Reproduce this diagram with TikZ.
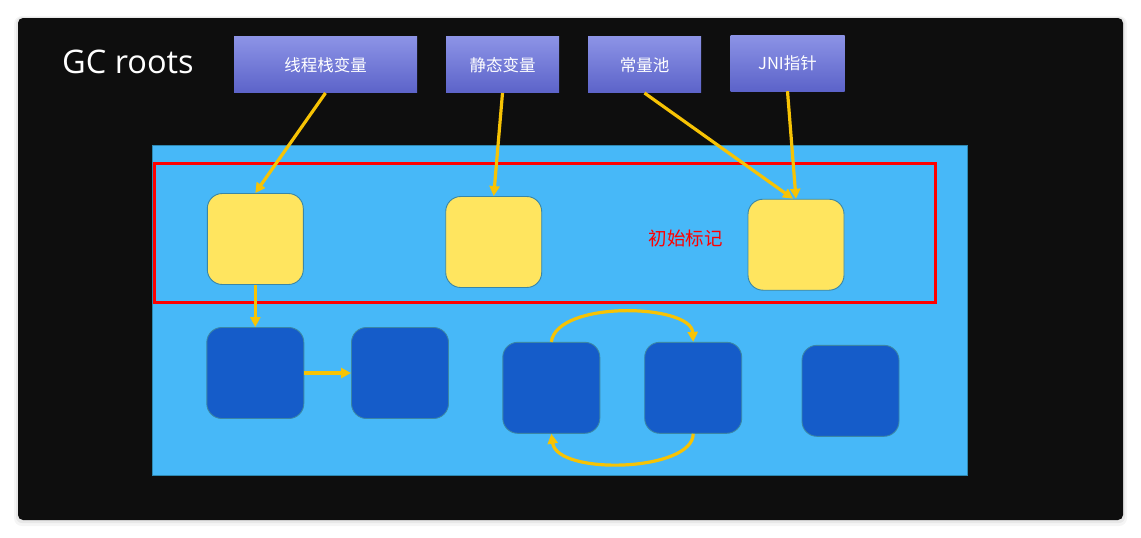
\documentclass[tikz,border=0pt]{standalone}
\usepackage{fontspec}
\setmainfont{Open Sans}
\newfontfamily\cjk{Noto Sans CJK SC}
\usetikzlibrary{arrows.meta}

\definecolor{rootTop}{HTML}{8C93E6}
\definecolor{rootBot}{HTML}{5C63C9}
\definecolor{heapBlue}{HTML}{47B8F8}
\definecolor{heapEdge}{HTML}{2E88B0}
\definecolor{markYellow}{HTML}{FFE55F}
\definecolor{objBlue}{HTML}{155CC9}
\definecolor{boxEdge}{HTML}{3A86A6}
\definecolor{refGold}{HTML}{F7C304}
\definecolor{board}{HTML}{0E0E0E}

\begin{document}
\begin{tikzpicture}[x=1pt, y=-1pt,
    root/.style={top color=rootTop, bottom color=rootBot, text=white, inner sep=0pt,
        minimum height=56pt, font=\cjk\fontsize{16.5}{18}\selectfont},
    marked/.style={draw=boxEdge, fill=markYellow, line width=0.9pt, rounded corners=15pt,
        minimum width=96pt, minimum height=91pt},
    unmarked/.style={draw=boxEdge, fill=objBlue, line width=0.9pt, rounded corners=15pt,
        minimum width=97pt, minimum height=91pt},
    ref/.style={draw=refGold, line width=3.2pt, -{Triangle[length=10pt, width=10pt]}}]
    \useasboundingbox (0,0) rectangle (1141,538);
    \fill[white] (0,0) rectangle (1141,538);

    % Board
    \fill[black, opacity=0.04, rounded corners=8pt] (14,16) rectangle (1127,526);
    \fill[black, opacity=0.05, rounded corners=6pt] (16,17) rectangle (1125,523);
    \fill[board, rounded corners=5pt] (18,18) rectangle (1123,520);
    \node[anchor=base west, inner sep=0pt, text=white, font=\fontsize{32.5}{38}\selectfont] (title) at (62,73.3) {GC roots};

    % GC roots
    \node[root, minimum width=183pt] (stack) at (325.5,64.8) {线程栈变量};
    \node[root, minimum width=113pt] (static) at (502.5,64.8) {静态变量};
    \node[root, minimum width=113pt] (pool) at (644.5,64.8) {常量池};
    \node[root, minimum width=114pt] (jni) at (787.5,63) {JNI指针};

    % Heap
    \draw[heapEdge, fill=heapBlue, line width=0.9pt] (152,145.7) rectangle (967.3,475.7);
    \draw[red, line width=3.2pt] (154.3,163.3) rectangle (935.5,302.8);
    \node[text=red, font=\cjk\fontsize{18.5}{20}\selectfont] (initmark) at (685.8,238.3) {初始标记};

        % Marked objects
        \node[marked] (m1) at (255.3,239) {};
        \node[marked] (m2) at (493.7,242) {};
        \node[marked] (m3) at (796,244.7) {};

        % Other objects
        \node[unmarked] (o1) at (255.3,373) {};
        \node[unmarked] (o2) at (400,373) {};
        \node[unmarked] (o3) at (551.3,387.8) {};
        \node[unmarked] (o4) at (693.2,387.8) {};
        \node[unmarked] (o5) at (850.5,390.8) {};

    % References
    \draw[ref] (stack.south) -- (m1.north);
    \draw[ref] (static.south) -- (m2.north);
    \draw[ref] (pool.south) -- ([xshift=-3pt]m3.north);
    \draw[ref] (jni.south) -- (m3.north);
    \draw[ref] (m1.south) -- (o1.north);
    \draw[ref] (o1.east) -- (o2.west);
    \draw[ref] (o3.north) .. controls +(6,-42) and +(-2,-38) .. (o4.north);
    \draw[ref] (o4.south) .. controls +(0,38) and +(6,42) .. (o3.south);
\end{tikzpicture}
\end{document}
